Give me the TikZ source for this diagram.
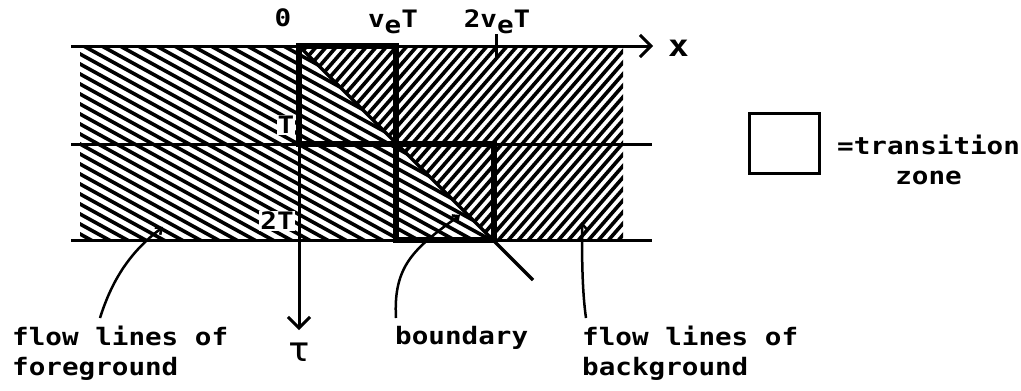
\documentclass[tikz,border=0pt]{standalone}
\usepackage{fontspec}
\usetikzlibrary{arrows.meta}
\newfontfamily\lettering[FakeStretch=1.15]{DejaVu Sans Mono}

\begin{document}
\begin{tikzpicture}[x=1pt,y=-1pt,
    lbl/.style={font=\lettering\bfseries\fontsize{24}{30}\selectfont,inner sep=0pt},
    axisline/.style={line width=3pt},
    zone/.style={line width=5.5pt},
    hatch/.style={line width=3.6pt},
    axtip/.style={-{Straight Barb[length=11pt,width=22pt]}},
    ptr/.style={line width=2.5pt,-{Straight Barb[length=5pt,width=9pt]}}]
        \useasboundingbox (0,0) rectangle (1021,391);

        \coordinate (o) at (299,46);
        \coordinate (a) at (396,144);
        \coordinate (b) at (494,240);
        \coordinate (xend) at (653,46);
        \coordinate (tend) at (299,330);
        \coordinate (bend) at (533,280);

        % foreground flow lines
        \begin{scope}
            \clip (80,46) -- (o) -- (b) -- (80,240) -- cycle;
            \foreach \k in {-40,...,26}
                \draw[hatch] (0,\k*10) -- (700,\k*10+385);
        \end{scope}

        % background flow lines
        \begin{scope}
            \clip (o) -- (623,46) -- (623,240) -- (b) -- cycle;
            \foreach \k in {0,...,52}
                \draw[hatch] (250,\k*11.5+100) -- (700,\k*11.5-417);
        \end{scope}

        \draw[axisline,axtip] (71,46) -- (xend);
        \draw[axisline] (71,144) -- (652,144);
        \draw[axisline] (71,240) -- (652,240);
        \draw[axisline,axtip] (o) -- (tend);
        \draw[axisline] (496,34) -- (496,57);

        \draw[zone] (o) rectangle (a);
        \draw[zone] (a) rectangle (b);
        \draw[line width=3.5pt] (o) -- (bend);

        \node[lbl,anchor=west,font=\lettering\bfseries\fontsize{30}{30}\selectfont] (xlbl) at (668,48) {x};
        \node[lbl,font=\lettering\fontsize{34}{34}\selectfont] (tau) at (299,352) {τ};
        \node[lbl] (zero) at (283,18) {0};
        \node[lbl] (vt) at (393,22) {v\raisebox{-0.45ex}{e}T};
        \node[lbl] (tvt) at (497,22) {2v\raisebox{-0.45ex}{e}T};
        \node[lbl,fill=white,inner sep=1pt] (tlbl) at (286,125) {T};
        \node[lbl,fill=white,inner sep=1pt] (ttlbl) at (277,221) {2T};

        \node[draw,line width=3pt,minimum width=70pt,minimum height=60pt] (legbox) at (784,143) {};
        \node[lbl,anchor=north west,align=center] (legtxt) at (837,135) {=transition\\zone};

        \node[lbl,anchor=north west,align=left] (fglbl) at (12,326) {flow lines of\\foreground};
        \node[lbl,anchor=north west] (bdlbl) at (395,326) {boundary};
        \node[lbl,anchor=north west,align=left] (bglbl) at (582,326) {flow lines of\\background};

        \coordinate (fgtail) at (100,318);
        \coordinate (fgtip) at (163,227);
        \coordinate (bdtail) at (396,318);
        \coordinate (bdtip) at (460,215);
        \coordinate (bgtail) at (586,318);
        \coordinate (bgtip) at (582,222);

        \draw[ptr] (fgtail) .. controls (112,280) and (130,252) .. (fgtip);
        \draw[ptr] (bdtail) .. controls (393,265) and (415,248) .. (bdtip);
        \draw[ptr] (bgtail) .. controls (582,290) and (582,255) .. (bgtip);
\end{tikzpicture}
\end{document}
